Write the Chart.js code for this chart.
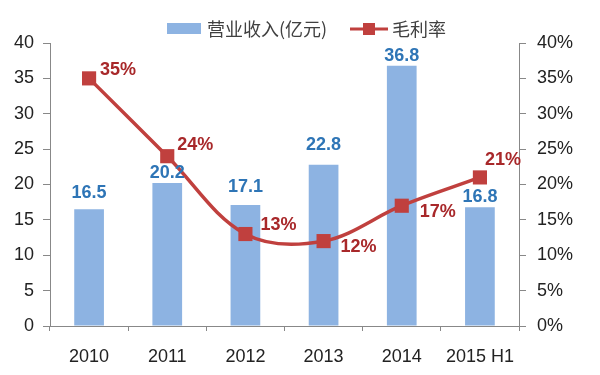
<!DOCTYPE html>
<html>
<head>
<meta charset="utf-8">
<title>营业收入与毛利率</title>
<script src="https://cdn.jsdelivr.net/npm/chart.js@4.4.1/dist/chart.umd.min.js"></script>
<style>
	body{ margin:0; background:#fff; }
	#wrap{ width:600px; height:375px; }
</style>
</head>
<body>
<div id="wrap"><canvas id="myChart" width="600" height="375"></canvas></div>
<script>
// data
var years = ["2010", "2011", "2012", "2013", "2014", "2015 H1"];
var revenue = [16.5, 20.2, 17.1, 22.8, 36.8, 16.8];   // 亿元
var margin = [35, 24, 13, 12, 17, 21];                // %
var revenueName = "营业收入(亿元)";
var marginName = "毛利率";
var axisMax = 40, axisStep = 5;

// label placement, as seen in the picture
var barLabelLift = [16, 10, 18, 20, 10, 10];
var marginLabelShift = [[11, -8], [10, -11], [15, -9], [17, 6], [18, 6], [5, -17]];

var barColor = "#8DB3E2";
var lineColor = "#C0403E";
var latin = '"Liberation Sans", Arial, sans-serif';
var cjk = '"Noto Sans CJK SC", sans-serif';

var valueLabels = {
	id: "valueLabels",
	afterDatasetsDraw: function(chart){
		var ctx = chart.ctx;
		ctx.save();
		ctx.font = "bold 18px " + latin;
		ctx.textBaseline = "middle";

		ctx.fillStyle = "#2E75B6";
		ctx.textAlign = "center";
		chart.getDatasetMeta(0).data.forEach(function(b, i){
			ctx.fillText(revenue[i].toFixed(1), b.x, b.y - barLabelLift[i]);
		});

		ctx.fillStyle = "#A8282A";
		ctx.textAlign = "left";
		chart.getDatasetMeta(1).data.forEach(function(p, i){
			var s = marginLabelShift[i];
			ctx.fillText(margin[i] + "%", p.x + s[0], p.y + s[1]);
		});
		ctx.restore();
	},
	afterDraw: function(chart){
		// legend, drawn by hand so the line item gets its square marker
		var ctx = chart.ctx;
		var y = 29;
		ctx.save();
		ctx.fillStyle = barColor;
		ctx.fillRect(167, 23, 34, 11);

		ctx.font = "18px " + cjk;
		ctx.fillStyle = "#404040";
		ctx.textBaseline = "middle";
		ctx.textAlign = "left";
		ctx.fillText(revenueName, 207, y);

		ctx.strokeStyle = lineColor;
		ctx.lineWidth = 3;
		ctx.beginPath();
		ctx.moveTo(350, y);
		ctx.lineTo(388, y);
		ctx.stroke();
		ctx.fillStyle = lineColor;
		ctx.fillRect(363, y - 6, 12, 12);

		ctx.fillStyle = "#404040";
		ctx.fillText(marginName, 392, y);
		ctx.restore();
	}
};

var tickFont = { family: latin, size: 18 };

var params = {
	type: "bar",
	data: {
		labels: years,
		datasets: [{
			type: "bar",
			label: revenueName,
			data: revenue,
			yAxisID: "y",
			backgroundColor: barColor,
			barPercentage: 0.38,
			categoryPercentage: 1,
			order: 2
		}, {
			type: "line",
			label: marginName,
			data: margin,
			yAxisID: "y1",
			borderColor: lineColor,
			borderWidth: 3.5,
			tension: 0.35,
			pointStyle: "rect",
			pointRadius: 10,
			pointBorderWidth: 0,
			pointBackgroundColor: lineColor,
			order: 1
		}]
	},
	options: {
		responsive: false,
		animation: false,
		layout: { padding: { top: 43, left: 0, right: 0, bottom: 0 } },
		plugins: {
			legend: { display: false },
			tooltip: { enabled: false }
		},
		scales: {
			x: {
				grid: { drawOnChartArea: false, tickLength: 5, color: "#888", offset: true },
				border: { color: "#888" },
				ticks: { color: "#222", font: tickFont, padding: 15, maxRotation: 0 },
				afterFit: function(s){ s.height = 49; }
			},
			y: {
				position: "left",
				min: 0, max: axisMax,
				grid: { drawOnChartArea: false, tickLength: 7, color: "#888" },
				border: { color: "#888" },
				ticks: { stepSize: axisStep, color: "#222", font: tickFont, padding: 9 },
				afterFit: function(s){ s.width = 50; }
			},
			y1: {
				position: "right",
				min: 0, max: axisMax,
				grid: { drawOnChartArea: false, tickLength: 7, color: "#888" },
				border: { color: "#888" },
				ticks: {
					stepSize: axisStep, color: "#222", font: tickFont, padding: 11,
					callback: function(v){ return v + "%"; }
				},
				afterFit: function(s){ s.width = 81; }
			}
		}
	},
	plugins: [valueLabels]
};

var myChart = new Chart(document.getElementById("myChart"), params);
</script>
</body>
</html>
